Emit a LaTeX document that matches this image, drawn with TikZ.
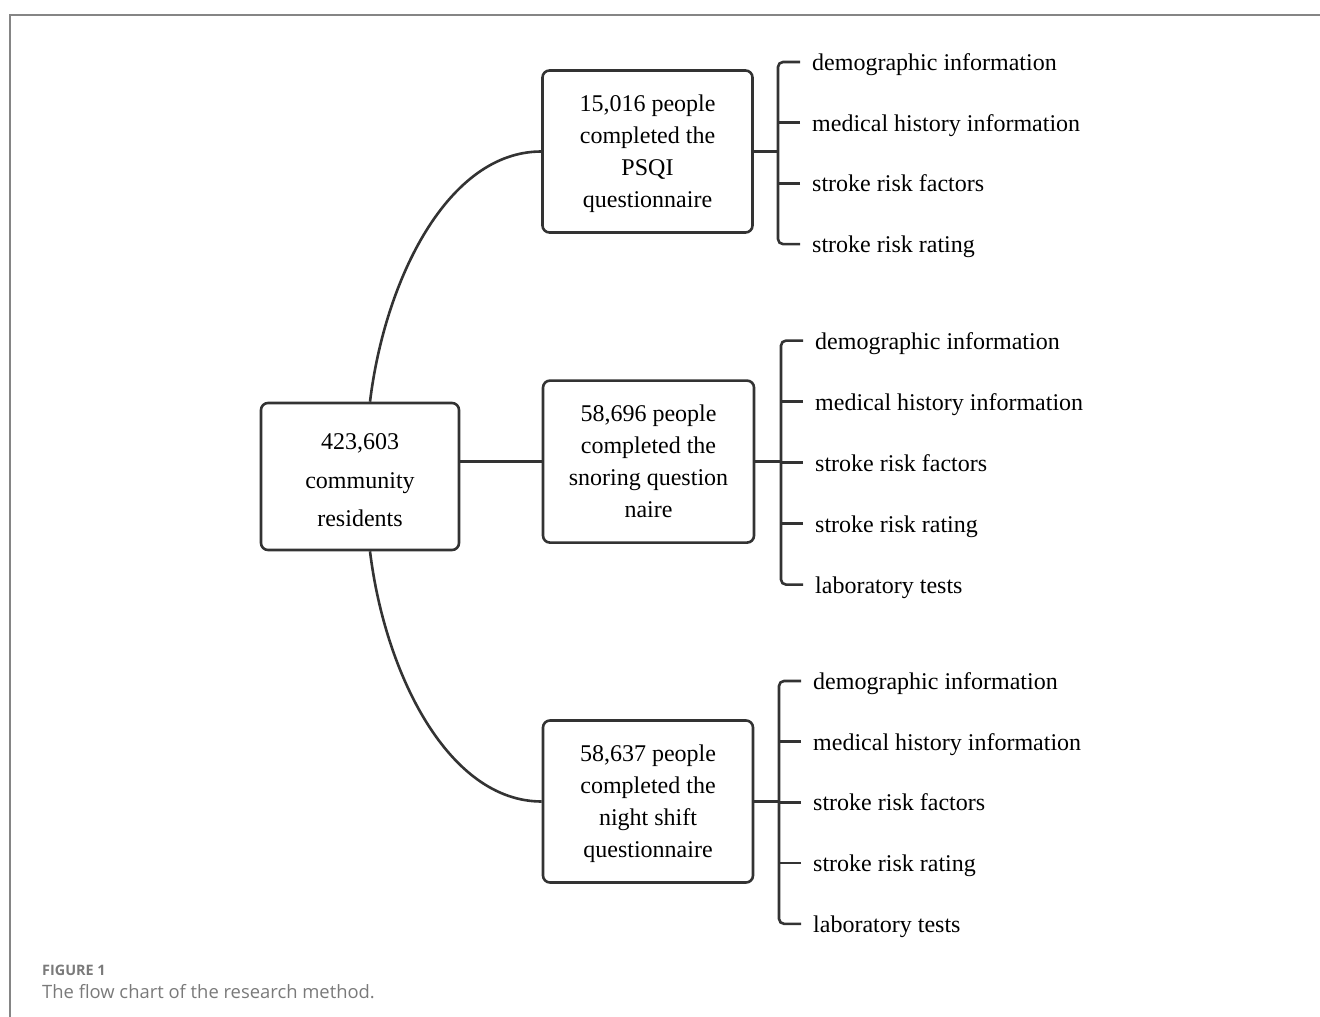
\documentclass[tikz,border=0pt]{standalone}
\usepackage{fontspec}
\setmainfont{Liberation Serif}
\newfontfamily\capfont{Open Sans}
\definecolor{ink}{HTML}{333333}
\definecolor{capgray}{HTML}{7A7A7A}
\definecolor{framegray}{HTML}{858585}
\newcommand{\tick}{12pt}
\newcommand{\spine}{34pt}

\begin{document}
\begin{tikzpicture}[x=1pt,y=-1pt,
  box/.style={draw=ink, line width=2.6pt, rounded corners=7pt, align=center,
    minimum width=210pt, minimum height=162pt, inner sep=0pt, text depth=0pt,
    font=\fontsize{24}{32}\selectfont},
  item/.style={anchor=west, inner sep=0pt, text height=17pt, text depth=0pt,
    font=\fontsize{24}{28}\selectfont},
  conn/.style={draw=ink, line width=2.6pt}]
\useasboundingbox (0,0) rectangle (1320,1017);
\draw [framegray, line width=1.5pt] (1320,15) -- (10,15) -- (10,1017);

\node [box, minimum width=198pt, minimum height=147pt, text height=100pt,
  font=\fontsize{24}{38.5}\selectfont] (root) at (360,476.5) {423,603\\community\\residents};
\node [box] (b1) at (647.5,151.5) {15,016 people\\completed the\\PSQI\\questionnaire};
\node [box, minimum width=211pt] (b2) at (648.5,461.6) {58,696 people\\completed the\\snoring question\\naire};
\node [box] (b3) at (648,801.5) {58,637 people\\completed the\\night shift\\questionnaire};

\draw [conn] ([xshift=10pt]root.north) .. controls +(15,-123) and +(-93,0) .. (b1.west);
\draw [conn] (root.east |- b2.west) -- (b2.west);
\draw [conn] ([xshift=10pt]root.south) .. controls +(15,123) and +(-93,0) .. (b3.west);

% first group
\foreach \t [count=\i] in {demographic information, medical history information,
    stroke risk factors, stroke risk rating}
  \node [item] (p\i) at (812,62+60.7*\i-60.7) {\t};
\coordinate (k1) at ([xshift=-\spine]p1.west |- b1.east);
\draw [conn] (b1.east) -- (k1);
\draw [conn, rounded corners=5pt] ([xshift=-\tick]p1.west) -| (k1)
  |- ([xshift=-\tick]p4.west);
\foreach \i in {2,3}
  \draw [conn] ([xshift=-\tick]p\i.west) -- ([xshift=-\spine]p\i.west);

% second group
\foreach \t [count=\i] in {demographic information, medical history information,
    stroke risk factors, stroke risk rating, laboratory tests}
  \node [item] (s\i) at (815,340.6+61*\i-61) {\t};
\coordinate (k2) at ([xshift=-\spine]s1.west |- b2.east);
\draw [conn] (b2.east) -- (k2);
\draw [conn, rounded corners=5pt] ([xshift=-\tick]s1.west) -| (k2)
  |- ([xshift=-\tick]s5.west);
\foreach \i in {2,3,4}
  \draw [conn] ([xshift=-\tick]s\i.west) -- ([xshift=-\spine]s\i.west);

% third group
\foreach \t [count=\i] in {demographic information, medical history information,
    stroke risk factors, stroke risk rating, laboratory tests}
  \node [item] (n\i) at (813,681+60.7*\i-60.7) {\t};
\coordinate (k3) at ([xshift=-\spine]n1.west |- b3.east);
\draw [conn] (b3.east) -- (k3);
\draw [conn, rounded corners=5pt] ([xshift=-\tick]n1.west) -| (k3)
  |- ([xshift=-\tick]n5.west);
\foreach \i in {2,3,4}
  \draw [conn] ([xshift=-\tick]n\i.west) -- ([xshift=-\spine]n\i.west);

\node [anchor=west, inner sep=0pt, text=capgray, font=\capfont\bfseries\fontsize{14.4}{17}\selectfont]
  (fig) at (42,970) {FIGURE 1};
\node [anchor=west, inner sep=0pt, text=capgray, font=\capfont\fontsize{18.4}{22}\selectfont]
  (cap) at (42,992) {The flow chart of the research method.};
\end{tikzpicture}
\end{document}
